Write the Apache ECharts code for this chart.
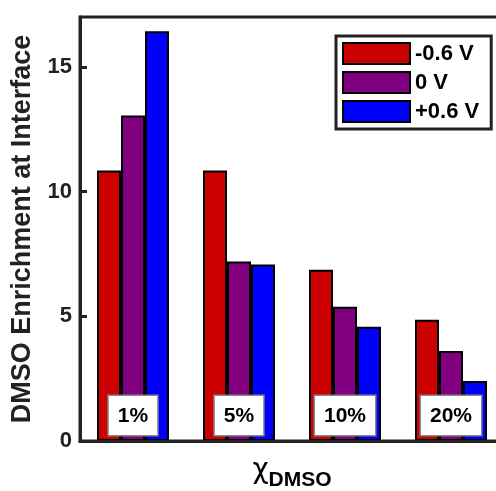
<!DOCTYPE html>
<html><head><meta charset="utf-8">
<script src="https://cdn.jsdelivr.net/npm/echarts@6/dist/echarts.min.js"></script>
<style>html,body{margin:0;padding:0;background:#fff}#c{width:496px;height:491px}</style>
</head><body><div id="c"></div>
<script>
const categories = ['1%', '5%', '10%', '20%'];
const seriesNames = ['-0.6 V', '0 V', '+0.6 V'];
const valsNeg = [10.85, 10.85, 6.87, 4.86];
const valsZero = [13.05, 7.2, 5.38, 3.61];
const valsPos = [16.43, 7.08, 4.58, 2.41];
const yTicks = [0, 5, 10, 15];
const colors = ['#cc0000', '#800080', '#0000ff'];

const chart = echarts.init(document.getElementById('c'), null, {renderer: 'canvas'});
const font = 'Liberation Sans, Arial, sans-serif';
const mk = (name, data, i) => ({
  name, type: 'bar', data, barWidth: 24, barGap: '0%', barCategoryGap: '32%',
  itemStyle: {color: colors[i], borderColor: '#000', borderWidth: 2}
});
chart.setOption({
  animation: false,
  textStyle: {fontFamily: font},
  grid: {left: 80, top: 17, width: 424, height: 424, outerBoundsMode: 'none', containLabel: false,
    show: true, borderColor: '#222', borderWidth: 3, backgroundColor: 'transparent'},
  legend: {
    orient: 'vertical', left: 336, top: 36, padding: [6, 12, 6, 6],
    icon: 'rect', itemWidth: 67, itemHeight: 21, itemGap: 6,
    borderColor: '#222', borderWidth: 3, backgroundColor: '#fff',
    textStyle: {fontFamily: font, fontWeight: 'bold', fontSize: 22, color: '#000'},
    data: seriesNames
  },
  xAxis: {
    type: 'category', data: categories, z: 10,
    axisLine: {lineStyle: {color: '#222', width: 3}},
    axisTick: {show: false},
    axisLabel: {inside: true, margin: 6, interval: 0, fontFamily: font, fontWeight: 'bold', fontSize: 21, color: '#000',
      backgroundColor: '#fff', borderColor: '#888', borderWidth: 1.5, padding: [10, 9, 8, 9]},
    name: '{chi|χ}{sub|DMSO}', nameLocation: 'middle', nameGap: 14,
    nameTextStyle: {verticalAlign: 'top', rich: {
      chi: {fontFamily: 'DejaVu Sans', fontSize: 28, color: '#000', verticalAlign: 'bottom', lineHeight: 30},
      sub: {fontFamily: font, fontSize: 21, fontWeight: 'bold', color: '#000', verticalAlign: 'bottom', lineHeight: 30, padding: [0, 0, -6, 0]}
    }}
  },
  yAxis: {
    type: 'value', min: 0, max: 17, interval: 5,
    axisLine: {show: true, lineStyle: {color: '#222', width: 3}},
    axisTick: {show: true, inside: true, length: 7, lineStyle: {color: '#222', width: 3}},
    splitLine: {show: false},
    axisLabel: {showMaxLabel: false, fontFamily: font, fontWeight: 'bold', fontSize: 22, color: '#222', margin: 8,
      formatter: v => yTicks.includes(v) ? String(v) : ''},
    name: 'DMSO Enrichment at Interface', nameLocation: 'middle', nameGap: 44,
    nameTextStyle: {fontFamily: font, fontWeight: 'bold', fontSize: 27, color: '#222'}
  },
  series: [mk(seriesNames[0], valsNeg, 0), mk(seriesNames[1], valsZero, 1), mk(seriesNames[2], valsPos, 2)]
});
</script></body></html>
